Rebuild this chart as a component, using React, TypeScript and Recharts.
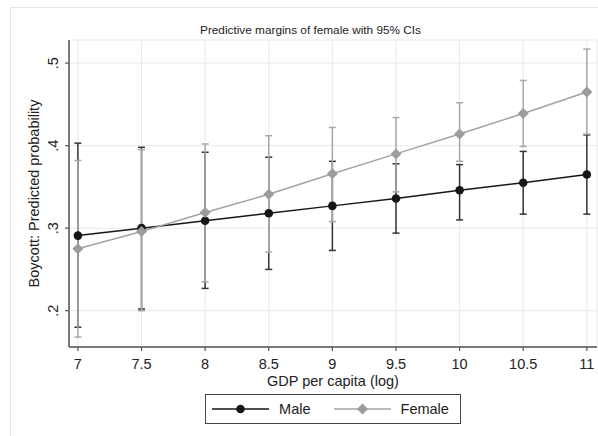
import { ComposedChart, Line, XAxis, YAxis, CartesianGrid, ErrorBar, Legend } from 'recharts';

// GDP per capita (log) positions
const gdp = [7, 7.5, 8, 8.5, 9, 9.5, 10, 10.5, 11];

// predictive margins and 95% CIs
const maleMargin = [0.291, 0.3, 0.309, 0.318, 0.327, 0.336, 0.346, 0.355, 0.365];
const maleLower = [0.18, 0.202, 0.227, 0.25, 0.273, 0.294, 0.31, 0.317, 0.317];
const maleUpper = [0.403, 0.398, 0.392, 0.386, 0.381, 0.378, 0.377, 0.393, 0.413];

const femaleMargin = [0.275, 0.296, 0.319, 0.341, 0.366, 0.39, 0.414, 0.439, 0.465];
const femaleLower = [0.168, 0.2, 0.235, 0.271, 0.308, 0.344, 0.381, 0.399, 0.414];
const femaleUpper = [0.382, 0.395, 0.402, 0.412, 0.422, 0.434, 0.452, 0.479, 0.517];

const xTicks = [7, 7.5, 8, 8.5, 9, 9.5, 10, 10.5, 11];
const yTicks = [0.2, 0.3, 0.4, 0.5];

const data = gdp.map((g, i) => ({
  gdp: g,
  male: maleMargin[i],
  maleErr: [maleMargin[i] - maleLower[i], maleUpper[i] - maleMargin[i]],
  female: femaleMargin[i],
  femaleErr: [femaleMargin[i] - femaleLower[i], femaleUpper[i] - femaleMargin[i]],
}));

const FONT = '"Liberation Sans", Arial, Helvetica, sans-serif';
const MALE = '#161616';
const FEMALE = '#a3a3a3';

const XTick = ({ x, y, payload }: any) => (
  <text x={x} y={y + 16} textAnchor="middle" fill="#222" fontSize={14.5} fontFamily={FONT}>
    {payload.value}
  </text>
);

const YTick = ({ x, y, payload }: any) => (
  <g transform={`translate(${x - 5},${y})`}>
    <text transform="rotate(-90)" textAnchor="middle" fill="#222" fontSize={14.5} fontFamily={FONT}>
      {String(payload.value).replace(/^0/, '')}
    </text>
  </g>
);

const Diamond = ({ cx, cy, index }: any) => (
  <path
    key={`d-${index}`}
    d={`M${cx},${cy - 5.5}L${cx + 5.5},${cy}L${cx},${cy + 5.5}L${cx - 5.5},${cy}Z`}
    fill="#9c9c9c"
  />
);

const LegendBox = () => (
  <div style={{ display: 'flex', justifyContent: 'center', paddingLeft: 69, fontFamily: FONT }}>
    <div
      style={{
        boxSizing: 'border-box',
        height: 30,
        border: '1px solid #444',
        background: '#fff',
        display: 'flex',
        alignItems: 'center',
        padding: '0 11px 0 6px',
        fontSize: 14.5,
        color: '#222',
      }}
    >
      <svg width={57} height={12} style={{ marginRight: 10 }}>
        <line x1={0} y1={6} x2={57} y2={6} stroke={MALE} strokeWidth={1.4} />
        <circle cx={28.5} cy={6} r={4.3} fill={MALE} />
      </svg>
      <span style={{ marginRight: 23 }}>Male</span>
      <svg width={57} height={12} style={{ marginRight: 10 }}>
        <line x1={0} y1={6} x2={57} y2={6} stroke={FEMALE} strokeWidth={1.4} />
        <path d="M28.5,0.5L34,6L28.5,11.5L23,6Z" fill="#9c9c9c" />
      </svg>
      <span>Female</span>
    </div>
  </div>
);

export default function App() {
  return (
    <div
      style={{
        position: 'absolute',
        left: 0,
        top: 0,
        width: 598,
        height: 436,
        overflow: 'hidden',
        background: '#fff',
        fontFamily: FONT,
      }}
    >
      <div
        style={{
          position: 'absolute',
          left: 10,
          top: 7,
          width: 620,
          height: 460,
          border: '1px solid #e6e6e6',
        }}
      />
      <div
        style={{
          position: 'absolute',
          left: 0,
          top: 23,
          width: 621,
          textAlign: 'center',
          fontSize: 11.8,
          color: '#222',
        }}
      >
        Predictive margins of female with 95% CIs
      </div>
      <ComposedChart
        width={598}
        height={436}
        data={data}
        margin={{ top: 40, right: 1, bottom: 12, left: 0 }}
      >
        <CartesianGrid stroke="#e9e9e9" strokeWidth={1} />
        <XAxis
          dataKey="gdp"
          type="number"
          domain={[6.93, 11.08]}
          ticks={xTicks}
          allowDataOverflow
          height={47}
          tick={<XTick />}
          tickSize={4}
          axisLine={{ stroke: '#555', strokeWidth: 1.5 }}
          tickLine={{ stroke: '#555', strokeWidth: 1.2 }}
          label={{
            value: 'GDP per capita (log)',
            position: 'insideBottom',
            offset: 8,
            fill: '#222',
            fontSize: 14.5,
            fontFamily: FONT,
          }}
        />
        <YAxis
          type="number"
          domain={[0.156, 0.528]}
          ticks={yTicks}
          allowDataOverflow
          width={69}
          tick={<YTick />}
          tickSize={4}
          axisLine={{ stroke: '#555', strokeWidth: 1.5 }}
          tickLine={{ stroke: '#555', strokeWidth: 1.2 }}
          label={{
            value: 'Boycott: Predicted probability',
            angle: -90,
            position: 'center',
            dx: -0.5,
            fill: '#222',
            fontSize: 14.5,
            fontFamily: FONT,
          }}
        />
        <Legend verticalAlign="bottom" content={<LegendBox />} />
        <Line
          dataKey="male"
          name="Male"
          stroke={MALE}
          strokeWidth={1.5}
          dot={{ r: 4.3, fill: MALE, stroke: 'none' }}
          activeDot={false}
          isAnimationActive={false}
        >
          <ErrorBar dataKey="maleErr" direction="y" width={3.5} stroke="#333" strokeWidth={1.5} isAnimationActive={false} />
        </Line>
        <Line
          dataKey="female"
          name="Female"
          stroke={FEMALE}
          strokeWidth={1.5}
          dot={<Diamond />}
          activeDot={false}
          isAnimationActive={false}
        >
          <ErrorBar dataKey="femaleErr" direction="y" width={3.5} stroke="#a8a8a8" strokeWidth={1.5} isAnimationActive={false} />
        </Line>
      </ComposedChart>
    </div>
  );
}
